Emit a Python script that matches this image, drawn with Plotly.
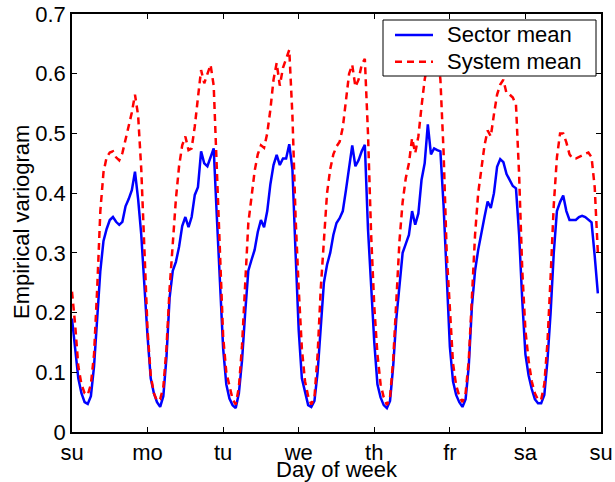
import plotly.graph_objects as go

day_labels = ["su", "mo", "tu", "we", "th", "fr", "sa", "su"]
hours = list(range(168))

sector_mean = [
    # su
    0.19, 0.14, 0.09, 0.065, 0.05, 0.047, 0.06, 0.11, 0.19, 0.27, 0.32, 0.34,
    0.355, 0.36, 0.352, 0.347, 0.352, 0.378, 0.39, 0.405, 0.436, 0.39, 0.33, 0.24,
    # mo
    0.16, 0.09, 0.065, 0.05, 0.042, 0.06, 0.125, 0.225, 0.27, 0.285, 0.31, 0.345,
    0.36, 0.343, 0.36, 0.397, 0.41, 0.47, 0.45, 0.445, 0.46, 0.475, 0.36, 0.25,
    # tu
    0.14, 0.08, 0.056, 0.045, 0.04, 0.065, 0.12, 0.2, 0.27, 0.288, 0.305, 0.335,
    0.355, 0.343, 0.37, 0.415, 0.447, 0.464, 0.447, 0.458, 0.458, 0.482, 0.44, 0.30,
    # we
    0.17, 0.09, 0.065, 0.045, 0.042, 0.052, 0.1, 0.18, 0.25, 0.28, 0.3, 0.33,
    0.35, 0.358, 0.37, 0.405, 0.44, 0.48, 0.445, 0.455, 0.47, 0.481, 0.34, 0.235,
    # th
    0.15, 0.08, 0.058, 0.045, 0.04, 0.052, 0.11, 0.19, 0.25, 0.3, 0.315, 0.33,
    0.37, 0.347, 0.366, 0.422, 0.45, 0.515, 0.465, 0.475, 0.472, 0.47, 0.38, 0.25,
    # fr
    0.143, 0.085, 0.062, 0.05, 0.042, 0.055, 0.11, 0.21, 0.27, 0.305, 0.335, 0.36,
    0.386, 0.375, 0.4, 0.444, 0.457, 0.452, 0.432, 0.422, 0.412, 0.408, 0.33, 0.22,
    # sa
    0.13, 0.095, 0.072, 0.055, 0.048, 0.048, 0.062, 0.12, 0.2, 0.3, 0.37, 0.385,
    0.396, 0.37, 0.355, 0.355, 0.355, 0.36, 0.362, 0.36, 0.355, 0.351, 0.295, 0.232,
]

system_mean = [
    # su
    0.235, 0.18, 0.11, 0.08, 0.065, 0.062, 0.08, 0.13, 0.24, 0.37, 0.435, 0.46,
    0.468, 0.47, 0.46, 0.455, 0.467, 0.49, 0.51, 0.535, 0.565, 0.53, 0.44, 0.3,
    # mo
    0.17, 0.095, 0.065, 0.052, 0.055, 0.075, 0.14, 0.24, 0.32, 0.39, 0.445, 0.48,
    0.495, 0.472, 0.475, 0.512, 0.56, 0.606, 0.584, 0.6, 0.615, 0.58, 0.45, 0.29,
    # tu
    0.16, 0.1, 0.075, 0.055, 0.046, 0.075, 0.145, 0.26, 0.35, 0.393, 0.437, 0.465,
    0.48, 0.476, 0.5, 0.54, 0.59, 0.618, 0.58, 0.61, 0.625, 0.64, 0.53, 0.36,
    # we
    0.24, 0.14, 0.085, 0.06, 0.046, 0.058, 0.13, 0.24, 0.32, 0.4, 0.44, 0.465,
    0.478, 0.486, 0.51, 0.56, 0.6, 0.615, 0.578, 0.59, 0.615, 0.625, 0.5, 0.33,
    # th
    0.21, 0.13, 0.08, 0.058, 0.045, 0.058, 0.12, 0.22, 0.32, 0.385, 0.425, 0.45,
    0.492, 0.467, 0.495, 0.545, 0.59, 0.62, 0.63, 0.62, 0.64, 0.59, 0.47, 0.3,
    # fr
    0.2, 0.115, 0.078, 0.06, 0.05, 0.065, 0.12, 0.23, 0.33, 0.4, 0.44, 0.48,
    0.505, 0.495, 0.532, 0.565, 0.582, 0.59, 0.567, 0.565, 0.56, 0.548, 0.43, 0.27,
    # sa
    0.17, 0.12, 0.085, 0.065, 0.054, 0.054, 0.08, 0.15, 0.26, 0.38, 0.46, 0.5,
    0.5, 0.485, 0.465, 0.458, 0.458, 0.46, 0.463, 0.466, 0.468, 0.46, 0.41, 0.30,
]

tick_vals = [24 * i for i in range(8)]
y_ticks = [0, 0.1, 0.2, 0.3, 0.4, 0.5, 0.6, 0.7]
y_tick_text = ["0", "0.1", "0.2", "0.3", "0.4", "0.5", "0.6", "0.7"]
series_names = ["Sector mean", "System mean"]
series_colors = ["#0000ff", "#ff0000"]
series_dash = ["solid", "7px,5px"]
x_title = "Day of week"
y_title = "Empirical variogram"

FONT = "Liberation Sans, Arial, Helvetica, sans-serif"
LW = 2.5

fig = go.Figure()
for name, vals, col, dsh in zip(series_names, [sector_mean, system_mean], series_colors, series_dash):
    fig.add_trace(go.Scatter(
        x=hours, y=vals, mode="lines", name=name,
        line=dict(color=col, width=LW, dash=dsh),
    ))

# pixel -> paper helpers for the plot area
L, T, PW, PH = 72, 14, 529, 418
def px(X):
    return (X - L) / PW
def py(Y):
    return (T + PH - Y) / PH

# Legend drawn as box + sample lines + text (matches reference compactness)
shapes = [dict(type="rect", xref="paper", yref="paper",
               x0=px(383), x1=px(596), y0=py(76), y1=py(20),
               line=dict(color="black", width=1), fillcolor="white", layer="above")]
annotations = []
for i, (name, col, dsh) in enumerate(zip(series_names, series_colors, series_dash)):
    yy = 35 + i * 26.7
    shapes.append(dict(type="line", xref="paper", yref="paper",
                       x0=px(395), x1=px(433), y0=py(yy), y1=py(yy),
                       line=dict(color=col, width=LW, dash=dsh), layer="above"))
    annotations.append(dict(text=name, xref="paper", yref="paper",
                            x=px(445), y=py(yy), xanchor="left", yanchor="middle",
                            showarrow=False, font=dict(size=22, color="black")))

# Axis titles
annotations.append(dict(text=x_title, xref="paper", yref="paper",
                        x=0.5, y=py(469), xanchor="center", yanchor="middle",
                        showarrow=False, font=dict(size=22, color="black")))
annotations.append(dict(text=y_title, xref="paper", yref="paper",
                        x=px(21), y=py(222), xanchor="center", yanchor="middle",
                        textangle=-90, showarrow=False, font=dict(size=22, color="black")))

fig.update_layout(
    template="none",
    width=615, height=482,
    margin=dict(l=L, r=14, t=T, b=50),
    paper_bgcolor="white", plot_bgcolor="white",
    font=dict(family=FONT, size=22, color="black"),
    showlegend=False,
    shapes=shapes,
    annotations=annotations,
    xaxis=dict(
        range=[0, 168], tickmode="array", tickvals=tick_vals, ticktext=day_labels,
        showline=True, linecolor="black", linewidth=1.5, mirror="ticks",
        ticks="inside", ticklen=5, tickcolor="black", tickwidth=1, showgrid=False, zeroline=False,
        automargin=False,
    ),
    yaxis=dict(
        range=[0, 0.7], tickmode="array", tickvals=y_ticks, ticktext=y_tick_text,
        showline=True, linecolor="black", linewidth=1.5, mirror="ticks",
        ticks="inside", ticklen=5, tickcolor="black", tickwidth=1, showgrid=False, zeroline=False,
        automargin=False,
    ),
)

fig.write_html("out.html")
